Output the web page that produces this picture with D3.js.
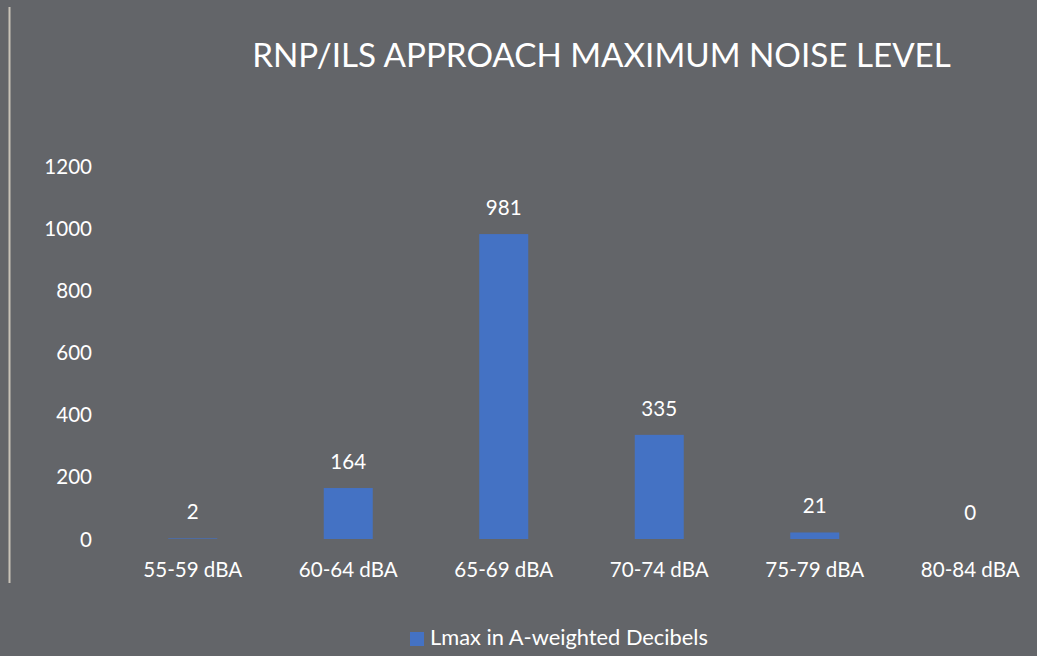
<!DOCTYPE html>
<html>
<head>
<meta charset="utf-8">
<script src="https://cdn.jsdelivr.net/npm/d3@7"></script>
<style>
  html, body { margin: 0; padding: 0; background: #636569; }
  svg { display: block; }
  text { font-family: Lato, "Open Sans", sans-serif; fill: #ffffff; }
</style>
</head>
<body>
<div id="chart"></div>
<script>
// chart data
const categories = ["55-59 dBA", "60-64 dBA", "65-69 dBA", "70-74 dBA", "75-79 dBA", "80-84 dBA"];
const counts = [2, 164, 981, 335, 21, 0];
const yTicks = [0, 200, 400, 600, 800, 1000, 1200];
const title = "RNP/ILS APPROACH MAXIMUM NOISE LEVEL";
const seriesName = "Lmax in A-weighted Decibels";

const width = 1037, height = 656;
const barColor = "#4472c4";

const svg = d3.select("#chart").append("svg")
    .attr("width", width)
    .attr("height", height);

svg.append("rect")
    .attr("width", width)
    .attr("height", height)
    .attr("fill", "#636569");

// thin border line on the left edge
svg.append("line")
    .attr("x1", 9.5).attr("x2", 9.5)
    .attr("y1", 7).attr("y2", 583)
    .attr("stroke", "#c9c3b8")
    .attr("stroke-width", 2);

// pick a font size so a sample string comes out at the given width
function fitSize(sample, targetWidth) {
  const t = svg.append("text").attr("font-size", 100).text(sample);
  const w = t.node().getComputedTextLength();
  t.remove();
  return 100 * targetWidth / w;
}
const labelSize = fitSize("55-59 dBA", 99);
const titleSize = fitSize(title, 699);
const legendSize = fitSize(seriesName, 278);

const x = d3.scaleBand()
    .domain(categories)
    .range([115, 1048])
    .paddingInner(0.685)
    .paddingOuter(0.3425);

const y = d3.scaleLinear()
    .domain([0, 1200])
    .range([539, 166]);

// title
svg.append("text")
    .attr("x", 601.5)
    .attr("y", 67)
    .attr("text-anchor", "middle")
    .attr("font-size", titleSize)
    .text(title);

// y axis labels (no line, no ticks)
const yAxis = d3.axisLeft(y).tickValues(yTicks).tickFormat(d3.format("d")).tickSize(0).tickPadding(0);
const yG = svg.append("g")
    .attr("transform", "translate(92,0)")
    .call(yAxis);
yG.select(".domain").remove();
yG.attr("font-family", null);
yG.selectAll("text")
    .attr("font-size", labelSize)
    .attr("fill", "#ffffff")
    .attr("dy", "0.34em");

// x axis labels
const xAxis = d3.axisBottom(x).tickSize(0).tickPadding(0);
const xG = svg.append("g")
    .attr("transform", "translate(0,539)")
    .call(xAxis);
xG.select(".domain").remove();
xG.attr("font-family", null);
xG.selectAll("text")
    .attr("font-size", labelSize)
    .attr("fill", "#ffffff")
    .attr("dy", null)
    .attr("y", 38);

// bars
svg.append("g").selectAll("rect")
    .data(counts)
    .join("rect")
    .attr("x", (d, i) => x(categories[i]))
    .attr("y", d => y(d))
    .attr("width", x.bandwidth())
    .attr("height", d => y(0) - y(d))
    .attr("fill", barColor);

// value labels
svg.append("g").selectAll("text")
    .data(counts)
    .join("text")
    .attr("x", (d, i) => x(categories[i]) + x.bandwidth() / 2)
    .attr("y", d => y(d) - 19)
    .attr("text-anchor", "middle")
    .attr("font-size", labelSize)
    .text(d => d);

// legend
const legend = svg.append("g");
legend.append("rect")
    .attr("x", 410).attr("y", 632)
    .attr("width", 14).attr("height", 14)
    .attr("fill", barColor);
legend.append("text")
    .attr("x", 430)
    .attr("y", 645)
    .attr("font-size", legendSize)
    .text(seriesName);
</script>
</body>
</html>
